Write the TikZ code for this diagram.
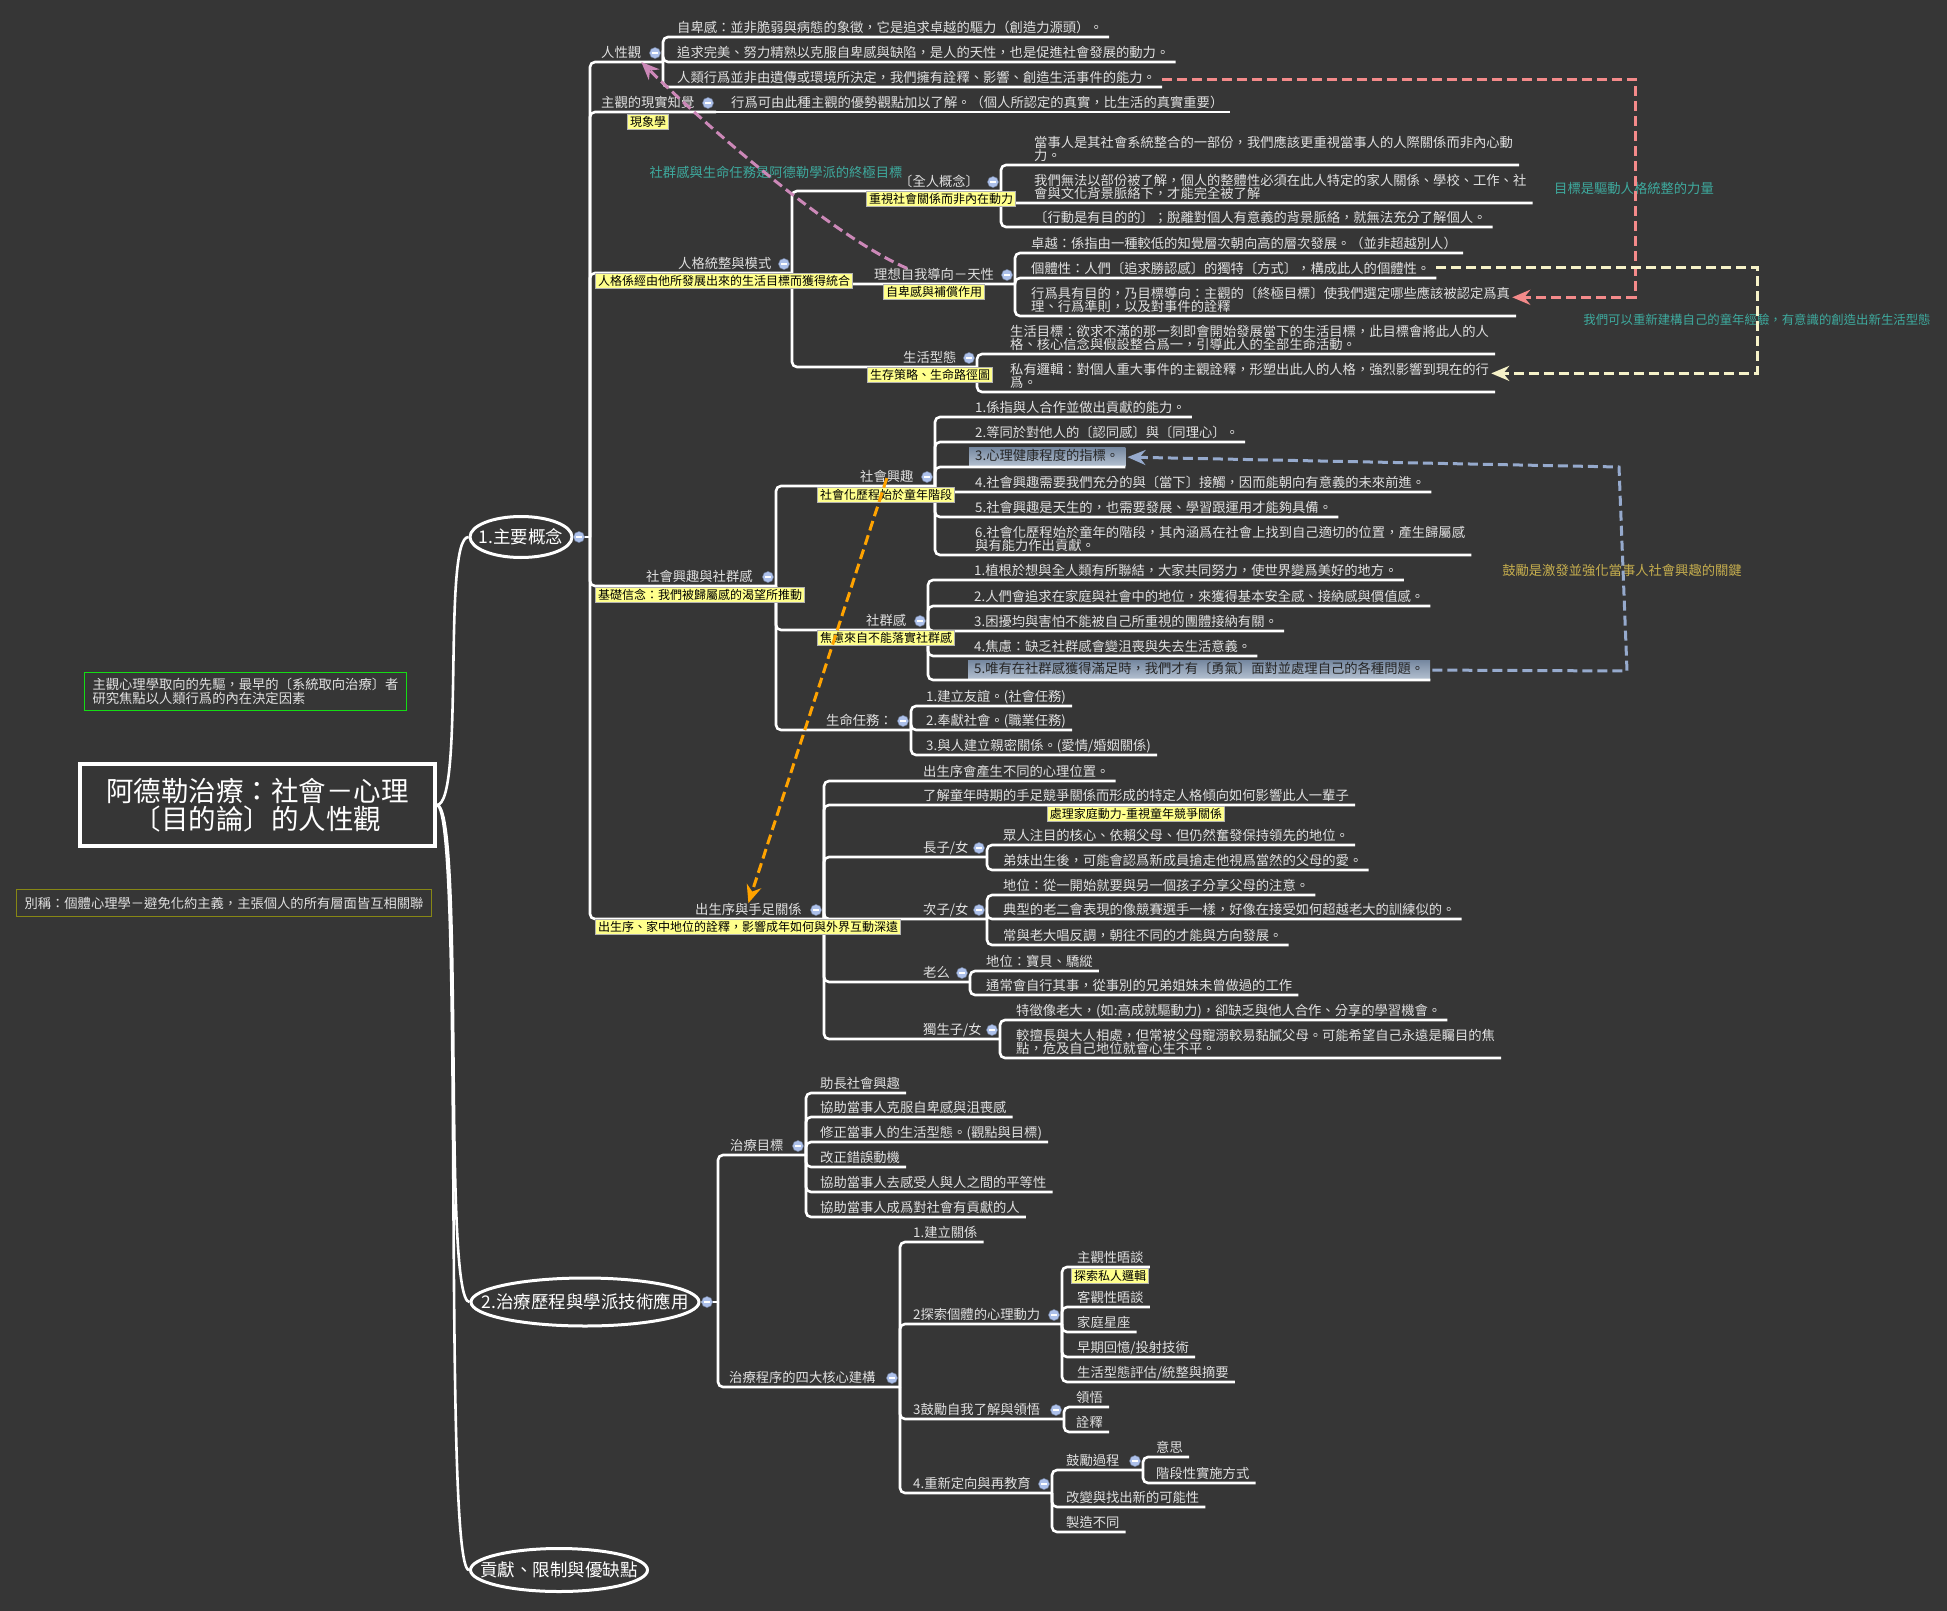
\documentclass[tikz,border=0pt]{standalone}
\usepackage{fontspec}
\setmainfont{Noto Sans CJK TC}
\usetikzlibrary{shapes.geometric,arrows.meta}

\definecolor{mapbg}{RGB}{54,54,54}
\definecolor{maptext}{RGB}{224,224,224}
\definecolor{noteyellow}{RGB}{255,255,140}
\definecolor{noteteal}{RGB}{62,170,158}
\definecolor{notegold}{RGB}{198,174,78}
\definecolor{linkpink}{RGB}{244,138,138}
\definecolor{linkcream}{RGB}{246,242,200}
\definecolor{linkblue}{RGB}{150,170,205}
\definecolor{linkorange}{RGB}{255,163,0}
\definecolor{linkmauve}{RGB}{204,136,184}
\definecolor{dotblue}{RGB}{172,192,234}
\definecolor{hitop}{RGB}{118,136,160}
\definecolor{hibottom}{RGB}{182,194,210}
\definecolor{greenframe}{RGB}{20,220,20}
\definecolor{oliveframe}{RGB}{135,135,20}

\newcommand{\mapfont}{\fontsize{13.3}{13.5}\selectfont}
\newcommand{\notefont}{\fontsize{12}{12.5}\selectfont}
\newcommand{\topicfont}{\fontsize{17.5}{18}\selectfont}
\newcommand{\rootfont}{\fontsize{27.5}{28}\selectfont}

\begin{document}
\begin{tikzpicture}[x=1pt, y=-1pt,
    every node/.style={font=\mapfont, text=maptext},
    leaf/.style={anchor=south west, inner sep=0pt, align=left, execute at end node=\strut},
    hilite/.style={leaf, inner xsep=6pt, inner ysep=2pt, top color=hitop, bottom color=hibottom, text=black!85},
    note/.style={fill=noteyellow, draw=gray!60, line width=0.6pt, text=black, font=\notefont,
      inner xsep=2.5pt, inner ysep=1.5pt, text height=10.5pt, text depth=1.5pt},
    dot/.style={circle, fill=dotblue, draw=dotblue!65!black, line width=0.5pt, minimum size=11pt, inner sep=0pt,
      path picture={\draw[white, line width=1.6pt] ([xshift=-3pt]path picture bounding box.center) -- ([xshift=3pt]path picture bounding box.center);}},
    branch/.style={draw=white, line width=2.6pt, rounded corners=5pt},
    topic/.style={ellipse, draw=white, line width=3pt, inner sep=0pt, font=\topicfont, text=white},
    link/.style={line width=3pt, dash pattern=on 10pt off 5pt, -{Stealth[length=18pt,width=15pt]}},
    remark/.style={text=noteteal}]

  \fill[mapbg] (0,0) rectangle (1947,1611);
  \useasboundingbox (0,0) rectangle (1947,1611);

  % root and side notes
  \node[draw=white, line width=3.5pt, minimum width=355pt, minimum height=82pt,
        align=center, font=\rootfont, text=white] (root) at (257.5,805)
        {阿德勒治療：社會－心理\\〔目的論〕的人性觀};
  \node[draw=greenframe, line width=1.2pt, minimum width=322pt, minimum height=38pt,
        align=left] (pioneer) at (245.5,691.5)
        {主觀心理學取向的先驅，最早的〔系統取向治療〕者\\研究焦點以人類行爲的內在決定因素};
  \node[draw=oliveframe, line width=1.2pt, minimum width=415pt, minimum height=27pt]
        (alias) at (224,903) {別稱：個體心理學－避免化約主義，主張個人的所有層面皆互相關聯};

  \node[topic, minimum width=102pt, minimum height=41pt] (e1) at (521,537) {\makebox[0pt]{1.主要概念}};
  \node[topic, minimum width=228pt, minimum height=48pt] (e2) at (585,1302) {\makebox[0pt]{2.治療歷程與學派技術應用}};
  \node[topic, minimum width=177pt, minimum height=43pt] (e3) at (559,1570) {\makebox[0pt]{貢獻、限制與優缺點}};

  \draw[branch] (root.east) .. controls (465,805) and (442,537) .. (e1.west);
  \draw[branch] (root.east) .. controls (465,805) and (442,1302) .. (e2.west);
  \draw[branch] (root.east) .. controls (465,805) and (442,1570) .. (e3.west);

  % 1. main concepts
  \coordinate (t1) at (590,537);
  \draw[branch] (e1.east) -- (t1);

  \node[leaf] (hn) at (601,62) {人性觀};
  \node[leaf] (zg) at (601,112) {主觀的現實知覺};
  \node[leaf] (rg) at (678,273) {人格統整與模式};
  \node[leaf] (sq) at (646,586) {社會興趣與社群感};
  \node[leaf] (cs) at (695,919) {出生序與手足關係};
  \coordinate (hn-k) at (663,62);
  \coordinate (zg-k) at (716,112);
  \coordinate (rg-k) at (792,273);
  \coordinate (sq-k) at (776,586);
  \coordinate (cs-k) at (824,919);
  \foreach \n in {hn,zg,rg,sq,cs}
    \draw[branch] (t1) |- (\n.south west) -- (\n-k);

  \node[leaf] (hn1) at (677,37) {自卑感：並非脆弱與病態的象徵，它是追求卓越的驅力（創造力源頭）。};
  \node[leaf] (hn2) at (677,62) {追求完美、努力精熟以克服自卑感與缺陷，是人的天性，也是促進社會發展的動力。};
  \node[leaf] (hn3) at (677,87) {人類行爲並非由遺傳或環境所決定，我們擁有詮釋、影響、創造生活事件的能力。};
  \foreach \n in {hn1,hn2,hn3}
    \draw[branch] (hn-k) |- (\n.south west) -- ([xshift=6pt]\n.south east);

  \node[leaf] (zg1) at (731,112) {行爲可由此種主觀的優勢觀點加以了解。（個人所認定的真實，比生活的真實重要）};
  \draw[branch] (zg-k) -- (zg1.south west) -- ([xshift=6pt]zg1.south east);

  \node[leaf] (qr) at (899,191) {〔全人概念〕};
  \node[leaf] (lx) at (874,284) {理想自我導向－天性};
  \node[leaf] (sh) at (903,367) {生活型態};
  \coordinate (qr-k) at (1001,191);
  \coordinate (lx-k) at (1015,284);
  \coordinate (sh-k) at (977,367);
  \foreach \n in {qr,lx,sh}
    \draw[branch] (rg-k) |- (\n.south west) -- (\n-k);

  \node[leaf] (qr1) at (1034,165) {當事人是其社會系統整合的一部份，我們應該更重視當事人的人際關係而非內心動\\力。};
  \node[leaf] (qr2) at (1034,203) {我們無法以部份被了解，個人的整體性必須在此人特定的家人關係、學校、工作、社\\會與文化背景脈絡下，才能完全被了解};
  \node[leaf] (qr3) at (1034,227) {〔行動是有目的的〕；脫離對個人有意義的背景脈絡，就無法充分了解個人。};
  \foreach \n in {qr1,qr2,qr3}
    \draw[branch] (qr-k) |- (\n.south west) -- ([xshift=6pt]\n.south east);

  \node[leaf] (lx1) at (1031,253) {卓越：係指由一種較低的知覺層次朝向高的層次發展。（並非超越別人）};
  \node[leaf] (lx2) at (1031,278) {個體性：人們〔追求勝認感〕的獨特〔方式〕，構成此人的個體性。};
  \node[leaf] (lx3) at (1031,316) {行爲具有目的，乃目標導向：主觀的〔終極目標〕使我們選定哪些應該被認定爲真\\理、行爲準則，以及對事件的詮釋};
  \foreach \n in {lx1,lx2,lx3}
    \draw[branch] (lx-k) |- (\n.south west) -- ([xshift=6pt]\n.south east);

  \node[leaf] (sh1) at (1010,354) {生活目標：欲求不滿的那一刻即會開始發展當下的生活目標，此目標會將此人的人\\格、核心信念與假設整合爲一，引導此人的全部生命活動。};
  \node[leaf] (sh2) at (1010,392) {私有邏輯：對個人重大事件的主觀詮釋，形塑出此人的人格，強烈影響到現在的行\\爲。};
  \foreach \n in {sh1,sh2}
    \draw[branch] (sh-k) |- (\n.south west) -- ([xshift=6pt]\n.south east);

  \node[leaf] (si) at (860,486) {社會興趣};
  \node[leaf] (sg) at (866,630) {社群感};
  \node[leaf] (sm) at (826,730) {生命任務：};
  \coordinate (si-k) at (935,486);
  \coordinate (sg-k) at (928,630);
  \coordinate (sm-k) at (911,730);
  \foreach \n in {si,sg,sm}
    \draw[branch] (sq-k) |- (\n.south west) -- (\n-k);

  \node[leaf] (si1) at (975,417) {1.係指與人合作並做出貢獻的能力。};
  \node[leaf] (si2) at (975,442) {2.等同於對他人的〔認同感〕與〔同理心〕。};
  \node[hilite] (si3) at (969,467) {3.心理健康程度的指標。};
  \node[leaf] (si4) at (975,492) {4.社會興趣需要我們充分的與〔當下〕接觸，因而能朝向有意義的未來前進。};
  \node[leaf] (si5) at (975,517) {5.社會興趣是天生的，也需要發展、學習跟運用才能夠具備。};
  \node[leaf] (si6) at (975,555) {6.社會化歷程始於童年的階段，其內涵爲在社會上找到自己適切的位置，產生歸屬感\\與有能力作出貢獻。};
  \foreach \n in {si1,si2,si4,si5,si6}
    \draw[branch] (si-k) |- (\n.south west) -- ([xshift=6pt]\n.south east);
  \draw[branch] (si-k) |- (si3.south west) -- (si3.south east);

  \node[leaf] (sg1) at (974,580) {1.植根於想與全人類有所聯結，大家共同努力，使世界變爲美好的地方。};
  \node[leaf] (sg2) at (974,606) {2.人們會追求在家庭與社會中的地位，來獲得基本安全感、接納感與價值感。};
  \node[leaf] (sg3) at (974,631) {3.困擾均與害怕不能被自己所重視的團體接納有關。};
  \node[leaf] (sg4) at (974,656) {4.焦慮：缺乏社群感會變沮喪與失去生活意義。};
  \node[hilite] (sg5) at (968,680) {5.唯有在社群感獲得滿足時，我們才有〔勇氣〕面對並處理自己的各種問題。};
  \foreach \n in {sg1,sg2,sg3,sg4}
    \draw[branch] (sg-k) |- (\n.south west) -- ([xshift=6pt]\n.south east);
  \draw[branch] (sg-k) |- (sg5.south west) -- (sg5.south east);

  \node[leaf] (sm1) at (926,706) {1.建立友誼。(社會任務)};
  \node[leaf] (sm2) at (926,730) {2.奉獻社會。(職業任務)};
  \node[leaf] (sm3) at (926,755) {3.與人建立親密關係。(愛情/婚姻關係)};
  \foreach \n in {sm1,sm2,sm3}
    \draw[branch] (sm-k) |- (\n.south west) -- ([xshift=6pt]\n.south east);

  \node[leaf] (cs1) at (923,781) {出生序會產生不同的心理位置。};
  \node[leaf] (cs2) at (923,805) {了解童年時期的手足競爭關係而形成的特定人格傾向如何影響此人一輩子};
  \foreach \n in {cs1,cs2}
    \draw[branch] (cs-k) |- (\n.south west) -- ([xshift=6pt]\n.south east);
  \node[leaf] (cz) at (923,857) {長子/女};
  \node[leaf] (cc) at (923,919) {次子/女};
  \node[leaf] (cl) at (923,982) {老么};
  \node[leaf] (co) at (923,1039) {獨生子/女};
  \coordinate (cz-k) at (987,857);
  \coordinate (cc-k) at (987,919);
  \coordinate (cl-k) at (970,982);
  \coordinate (co-k) at (1000,1039);
  \foreach \n in {cz,cc,cl,co}
    \draw[branch] (cs-k) |- (\n.south west) -- (\n-k);

  \node[leaf] (cz1) at (1003,845) {眾人注目的核心、依賴父母、但仍然奮發保持領先的地位。};
  \node[leaf] (cz2) at (1003,870) {弟妹出生後，可能會認爲新成員搶走他視爲當然的父母的愛。};
  \foreach \n in {cz1,cz2}
    \draw[branch] (cz-k) |- (\n.south west) -- ([xshift=6pt]\n.south east);
  \node[leaf] (cc1) at (1003,895) {地位：從一開始就要與另一個孩子分享父母的注意。};
  \node[leaf] (cc2) at (1003,919) {典型的老二會表現的像競賽選手一樣，好像在接受如何超越老大的訓練似的。};
  \node[leaf] (cc3) at (1003,945) {常與老大唱反調，朝往不同的才能與方向發展。};
  \foreach \n in {cc1,cc2,cc3}
    \draw[branch] (cc-k) |- (\n.south west) -- ([xshift=6pt]\n.south east);
  \node[leaf] (cl1) at (986,971) {地位：寶貝、驕縱};
  \node[leaf] (cl2) at (986,995) {通常會自行其事，從事別的兄弟姐妹未曾做過的工作};
  \foreach \n in {cl1,cl2}
    \draw[branch] (cl-k) |- (\n.south west) -- ([xshift=6pt]\n.south east);
  \node[leaf] (co1) at (1016,1020) {特徵像老大，(如:高成就驅動力)，卻缺乏與他人合作、分享的學習機會。};
  \node[leaf] (co2) at (1016,1058) {較擅長與大人相處，但常被父母寵溺較易黏膩父母。可能希望自己永遠是矚目的焦\\點，危及自己地位就會心生不平。};
  \foreach \n in {co1,co2}
    \draw[branch] (co-k) |- (\n.south west) -- ([xshift=6pt]\n.south east);

  % 2. therapy process
  \coordinate (t2) at (718,1302);
  \draw[branch] (e2.east) -- (t2);
  \node[leaf] (tg) at (730,1155) {治療目標};
  \node[leaf] (tp) at (729,1387) {治療程序的四大核心建構};
  \coordinate (tg-k) at (806,1155);
  \coordinate (tp-k) at (900,1387);
  \foreach \n in {tg,tp}
    \draw[branch] (t2) |- (\n.south west) -- (\n-k);

  \node[leaf] (tg1) at (820,1093) {助長社會興趣};
  \node[leaf] (tg2) at (820,1117) {協助當事人克服自卑感與沮喪感};
  \node[leaf] (tg3) at (820,1142) {修正當事人的生活型態。(觀點與目標)};
  \node[leaf] (tg4) at (820,1167) {改正錯誤動機};
  \node[leaf] (tg5) at (820,1192) {協助當事人去感受人與人之間的平等性};
  \node[leaf] (tg6) at (820,1217) {協助當事人成爲對社會有貢獻的人};
  \foreach \n in {tg1,tg2,tg3,tg4,tg5,tg6}
    \draw[branch] (tg-k) |- (\n.south west) -- ([xshift=6pt]\n.south east);

  \node[leaf] (tp1) at (913,1242) {1.建立關係};
  \node[leaf] (tp2) at (913,1324) {2探索個體的心理動力};
  \node[leaf] (tp3) at (913,1419) {3鼓勵自我了解與領悟};
  \node[leaf] (tp4) at (913,1493) {4.重新定向與再教育};
  \coordinate (tp2-k) at (1062,1324);
  \coordinate (tp3-k) at (1064,1419);
  \coordinate (tp4-k) at (1052,1493);
  \draw[branch] (tp-k) |- (tp1.south west) -- ([xshift=6pt]tp1.south east);
  \foreach \n in {tp2,tp3,tp4}
    \draw[branch] (tp-k) |- (\n.south west) -- (\n-k);

  \node[leaf] (tp2a) at (1077,1267) {主觀性晤談};
  \node[leaf] (tp2b) at (1077,1307) {客觀性晤談};
  \node[leaf] (tp2c) at (1077,1332) {家庭星座};
  \node[leaf] (tp2d) at (1077,1357) {早期回憶/投射技術};
  \node[leaf] (tp2e) at (1077,1382) {生活型態評估/統整與摘要};
  \foreach \n in {tp2a,tp2b,tp2c,tp2d,tp2e}
    \draw[branch] (tp2-k) |- (\n.south west) -- ([xshift=6pt]\n.south east);

  \node[leaf] (tp3a) at (1076,1407) {領悟};
  \node[leaf] (tp3b) at (1076,1432) {詮釋};
  \foreach \n in {tp3a,tp3b}
    \draw[branch] (tp3-k) |- (\n.south west) -- ([xshift=6pt]\n.south east);

  \node[leaf] (tq) at (1066,1470) {鼓勵過程};
  \node[leaf] (tp4b) at (1066,1507) {改變與找出新的可能性};
  \node[leaf] (tp4c) at (1066,1532) {製造不同};
  \coordinate (tq-k) at (1143,1470);
  \draw[branch] (tp4-k) |- (tq.south west) -- (tq-k);
  \foreach \n in {tp4b,tp4c}
    \draw[branch] (tp4-k) |- (\n.south west) -- ([xshift=6pt]\n.south east);
  \node[leaf] (tq1) at (1156,1457) {意思};
  \node[leaf] (tq2) at (1156,1483) {階段性實施方式};
  \foreach \n in {tq1,tq2}
    \draw[branch] (tq-k) |- (\n.south west) -- ([xshift=6pt]\n.south east);

  % collapse dots
  \foreach \n in {hn,zg,rg,qr,lx,sh,sq,si,sg,sm,cs,cz,cc,cl,co,tg,tp,tp2,tp3,tp4,tq}
    \node[dot] (\n-d) at ([xshift=-8pt,yshift=9pt]\n-k) {};
  \node[dot] (e1-d) at (579,537) {};
  \node[dot] (e2-d) at (707,1302) {};

  % callouts
  \node[note] (n0) at (648,122) {現象學};
  \node[note] (n1) at (724,281) {人格係經由他所發展出來的生活目標而獲得統合};
  \node[note] (n2) at (941,199) {重視社會關係而非內在動力};
  \node[note] (n3) at (934,292) {自卑感與補償作用};
  \node[note] (n4) at (930,375) {生存策略、生命路徑圖};
  \node[note] (n5) at (700,595) {基礎信念：我們被歸屬感的渴望所推動};
  \node[note] (n6) at (886,495) {社會化歷程始於童年階段};
  \node[note] (n7) at (886,638) {焦慮來自不能落實社群感};
  \node[note] (n8) at (748,927) {出生序、家中地位的詮釋，影響成年如何與外界互動深遠};
  \node[note] (n9) at (1136,814) {處理家庭動力-重視童年競爭關係};
  \node[note] (n10) at (1110,1276) {探索私人邏輯};

  \node[remark] (r1) at (776,172) {社群感與生命任務是阿德勒學派的終極目標};
  \node[remark] (r2) at (1634,188) {目標是驅動人格統整的力量};
  \node[remark, font=\fontsize{12.4}{13}\selectfont] (r3) at (1757,320) {我們可以重新建構自己的童年經驗，有意識的創造出新生活型態};
  \node[text=notegold] (r4) at (1622,570) {鼓勵是激發並強化當事人社會興趣的關鍵};

  % relationship links
  \coordinate (pk) at (1635,190);
  \coordinate (ck) at (1757,320);
  \coordinate (bk1) at (1627,671);
  \coordinate (bk2) at (1619,467);
  \draw[link, linkpink] ([xshift=6pt]hn3.east) -| (pk) |- ([xshift=2pt,yshift=4pt]lx3.east);
  \draw[link, linkcream] ([xshift=6pt,yshift=3pt]lx2.east) -| (ck) |- ([xshift=2pt,yshift=4pt]sh2.east);
  \draw[link, linkblue] ([xshift=2pt]sg5.east) -- (bk1) -- (bk2) -- ([xshift=2pt]si3.east);
  \draw[link, linkorange] (si.center) -- (cs.north);
  \draw[link, linkmauve] ([xshift=-27pt]lx.north) .. controls (830,235) and (700,120) .. (hn.south east);
\end{tikzpicture}
\end{document}
